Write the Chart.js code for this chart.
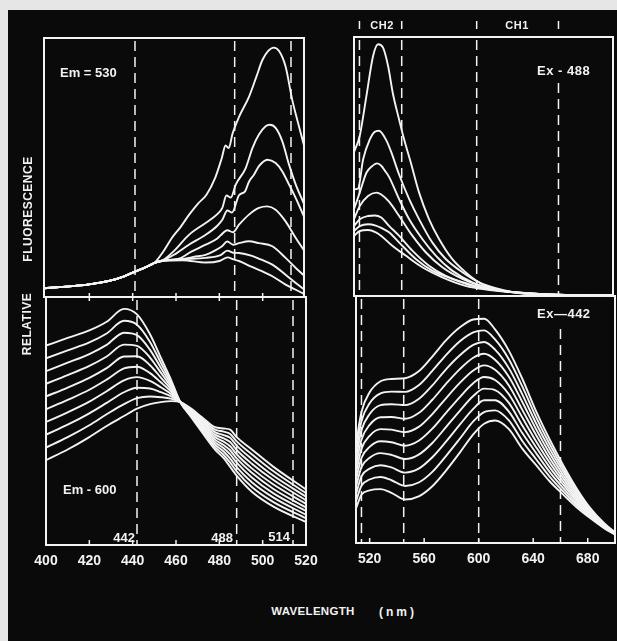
<!DOCTYPE html>
<html>
<head>
<meta charset="utf-8">
<script src="https://cdn.jsdelivr.net/npm/chart.js@4.4.1/dist/chart.umd.min.js"></script>
<style>
  html, body { margin:0; padding:0; width:617px; height:641px; overflow:hidden; background:#e6e6e6; }
  #bg { position:absolute; left:8px; top:10px; width:609px; height:631px; background:#0a0a0a; }
  canvas { position:absolute; }
  .lbl { position:absolute; color:#f2f2f2; font-family:"Liberation Sans", Arial, sans-serif; font-weight:bold; white-space:nowrap; line-height:1; }
</style>
</head>
<body>
<div id="bg"></div>
<canvas id="tl" width="300" height="299" style="left:24px;top:18px;width:300px;height:299px"></canvas>
<canvas id="tr" width="299" height="299" style="left:334px;top:17px;width:299px;height:299px"></canvas>
<canvas id="bl" width="300" height="310" style="left:26px;top:277px;width:300px;height:310px"></canvas>
<canvas id="br" width="299" height="310" style="left:336px;top:276px;width:299px;height:310px"></canvas>

<div class="lbl" style="left:60px;top:72px;font-size:13px;transform:translateY(-50%)">Em = 530</div>
<div class="lbl" style="left:537px;top:70px;font-size:13px;transform:translateY(-50%);letter-spacing:0.5px">Ex - 488</div>
<div class="lbl" style="left:537px;top:313px;font-size:13px;transform:translateY(-50%);letter-spacing:0.5px">Ex—442</div>
<div class="lbl" style="left:63px;top:489px;font-size:13px;transform:translateY(-50%)">Em - 600</div>
<div class="lbl" style="left:135px;top:537px;font-size:13px;transform:translate(-100%,-50%)">442</div>
<div class="lbl" style="left:233px;top:537px;font-size:13px;transform:translate(-100%,-50%)">488</div>
<div class="lbl" style="left:290px;top:536px;font-size:13px;transform:translate(-100%,-50%)">514</div>
<div class="lbl" style="left:382px;top:25px;font-size:11px;transform:translate(-50%,-50%);letter-spacing:0.5px">CH2</div>
<div class="lbl" style="left:517px;top:25px;font-size:11px;transform:translate(-50%,-50%);letter-spacing:0.5px">CH1</div>
<div class="lbl" style="left:28px;top:209px;font-size:12px;transform:translate(-50%,-50%) rotate(-90deg);letter-spacing:0.5px">FLUORESCENCE</div>
<div class="lbl" style="left:27px;top:324px;font-size:12px;transform:translate(-50%,-50%) rotate(-90deg);letter-spacing:0.5px">RELATIVE</div>
<div class="lbl" style="left:313px;top:612px;font-size:11.5px;transform:translate(-50%,-50%);letter-spacing:0.3px">WAVELENGTH</div>
<div class="lbl" style="left:398px;top:612px;font-size:12px;transform:translate(-50%,-50%);letter-spacing:3px">(nm)</div>

<script>
// ---------- tick labels / marker wavelengths ----------
const leftTicks  = [400, 420, 440, 460, 480, 500, 520];
const rightTicks = [520, 560, 600, 640, 680];
const leftMarks  = [442, 488, 514];
const rightMarks = [514, 545, 600, 660];
const channelBars = [514, 545, 600, 660];

// ---------- top-left: excitation, Em = 530 ([nm, value]) ----------
const tlBase = [[400,3.4],[410,4],[420,4.8],[430,6.2],[437,8],[442,9.8],[447,11.5],[451,13.2]];
const tl1 = [[455,17.5],[459,22.8],[463,27],[467,31.8],[471,36],[475,39.5],[479,46],[482,53.5],[483.8,58.5],[485.3,57.5],[487,63],[490,69.5],[494.6,77.3],[498,85],[500.8,91.5],[503.5,95],[506,96.3],[508.5,95],[511.5,89],[514.6,76],[517,68],[520,58.5]];
const tl2 = [[455,14.3],[460,17.8],[466.9,24],[474.6,28.6],[480,32],[482.3,34.4],[484.2,39.2],[486.2,38.4],[488.5,43.4],[493.1,49.8],[496.2,57.5],[499.2,62.7],[502.3,65.9],[504.2,66.5],[506.9,65.3],[510,60.1],[513.1,51.1],[516.2,43.4],[520,36]];
const tl3 = [[455,14.2],[460,16.3],[466.9,20.2],[474.6,24],[480,27.5],[482.3,29.8],[484.6,33.4],[486.8,32.6],[490,39.3],[492.8,40.8],[494.6,44.5],[496.9,47.2],[499.2,50.5],[503.1,53],[506.9,51.7],[510,48.5],[513.1,43.4],[516.2,38.2],[520,31]];
const tl4 = [[455,14.1],[462.3,14.8],[468,17.5],[474.6,20.2],[480,22.6],[481.5,23.8],[484.6,25.8],[487.2,25],[490,27.9],[494.6,31.8],[499.2,34.4],[503.1,35],[506.9,33.7],[511.5,29.2],[516.2,22.8],[520,18]];
const tl5 = [[455,14],[463.8,14.6],[469,15.5],[474.6,16.3],[479,18],[482,19.5],[484.6,21.4],[487.3,20.2],[490,20.8],[494.6,21.5],[499.2,20.8],[505.4,19.6],[511.5,15.1],[516.2,11.2],[520,8.3]];
const tl6 = [[455,14],[464,14.6],[474.6,15.1],[481.5,16.2],[484.6,17.9],[487.3,17.1],[490,17],[496,15.9],[500,14.5],[505.4,12.5],[511.5,8.6],[516.2,5.4],[520,3]];
const tl7 = [[455,14],[464,14.2],[474.6,13.3],[481,13.9],[484.8,15.3],[487.5,14.5],[490,13.9],[496,11.6],[500,10.2],[505.4,8],[511.5,4.8],[516.2,2.8],[520,1.2]];

// ---------- top-right: emission, Ex = 488 ([nm, value]) ----------
const tr1 = [[510,55.5],[514.2,61.8],[519.1,77.2],[524,92.7],[527.7,97.2],[531.3,95.9],[535,88.8],[538.6,78],[543,68.3],[546.7,60.6],[551.6,51.6],[557.7,40],[565,29.7],[572.4,22],[582,14.3],[591.8,9.2],[601.7,5.3],[614,2.7],[626,1.4],[640,0.7],[660,0.4],[700,0.3]];
const tr2 = [[510,41.2],[513,41.5],[516.7,52.8],[521.6,60.5],[525,63.3],[528.3,63.8],[533.8,60],[537,56],[543,47],[550.4,37.5],[557.7,29.7],[567.4,20.7],[577.3,14.3],[589.5,9.2],[601.7,5.3],[614,3],[626,1.6],[640,0.8],[660,0.4],[700,0.3]];
const tr3 = [[510,33.5],[514.2,39.9],[519.1,47.6],[523,50],[527,51.2],[530,50.3],[532.5,48.5],[535.7,46],[543,37.5],[550.4,29.7],[560.1,22],[570,15.6],[582,9.8],[596.8,5.3],[611.5,2.8],[626,1.5],[640,0.8],[660,0.4],[700,0.3]];
const tr4 = [[510,29.6],[514.2,34.7],[520.3,38.6],[526.4,39.9],[530,39.2],[535.7,36.4],[543,31],[552.8,23.3],[562.6,16.9],[574.8,11.1],[589.5,6.6],[606.6,3.4],[620,2],[640,1],[660,0.5],[700,0.3]];
const tr5 = [[510,27],[514.2,29.6],[520.3,30.9],[525.2,31.1],[530,30.3],[535.7,27.1],[543,23.3],[552.8,17.5],[565,11.7],[577.3,7.8],[594.4,4.6],[610,2.6],[625,1.6],[640,1],[660,0.5],[700,0.3]];
const tr6 = [[510,25.1],[514.2,27],[520.3,27.7],[526,27.2],[530,26.3],[535.7,24.6],[543,20.7],[555.3,14.3],[567.4,9.8],[582,6.6],[596.8,3.9],[612,2.4],[625,1.6],[640,1],[660,0.5],[700,0.3]];
const tr7 = [[510,23.2],[514.2,25.1],[520.3,25.5],[526,24.6],[530,23.2],[538.1,19.4],[547.9,15.6],[560.1,11.1],[574.8,7.2],[591.8,3.9],[608,2.4],[625,1.5],[640,1],[660,0.5],[700,0.3]];

// ---------- bottom-left: excitation, Em = 600 ----------
const blX  = [400,410,420,428,436,442,448,453,458,462,467,472,478,482,485,488,495,505,520];
const bl1  = [80.4,83.5,86.5,90,95.2,93,85,75.5,66,57.6,51.5,45.5,38.5,35,31.5,28,21.5,15.5,9.3];
const bl2  = [75.3,78.5,81.7,85.3,90.4,88.8,81.9,73.5,65.1,57.6,51.9,46.2,39.5,36.3,33.2,29.7,23.4,17.3,10.8];
const bl3  = [70.1,73.5,77,80.7,85.6,84.6,78.7,71.5,64.2,57.6,52.3,46.8,40.5,37.7,34.8,31.4,25.3,19.1,12.2];
const bl4  = [65,68.5,72.2,76,80.8,80.3,75.6,69.5,63.3,57.6,52.7,47.5,41.5,39,36.5,33.2,27.2,20.8,13.7];
const bl5  = [59.9,63.5,67.4,71.3,76,76.1,72.5,67.5,62.4,57.6,53.1,48.2,42.5,40.3,38.2,34.9,29.1,22.6,15.1];
const bl6  = [54.7,58.5,62.6,66.7,71.2,71.9,69.3,65.6,61.6,57.6,53.4,48.8,43.5,41.7,39.8,36.6,30.9,24.4,16.6];
const bl7  = [49.6,53.5,57.8,62,66.4,67.7,66.2,63.6,60.7,57.6,53.8,49.5,44.5,43,41.5,38.3,32.8,26.2,18];
const bl8  = [44.5,48.5,53.1,57.3,61.6,63.4,63.1,61.6,59.8,57.6,54.2,50.2,45.5,44.3,43.2,40.1,34.7,27.9,19.5];
const bl9  = [39.3,43.5,48.3,52.7,56.8,59.2,59.9,59.6,58.9,57.6,54.6,50.8,46.5,45.7,44.8,41.8,36.6,29.7,20.9];
const bl10 = [34.2,38.5,43.5,48,52,55,56.8,57.6,58,57.6,55,51.5,47.5,47,46.5,43.5,38.5,31.5,22.4];

// ---------- bottom-right: emission, Ex = 442 ----------
const brX  = [510,514,520,528,536,546,556,566,576,586,596,604,612,622,632,642,652,662,672,682,692,700];
const br1  = [40,53,61,65.5,66.4,66.7,69.5,75.5,82,87.2,90.5,90.8,86.5,78,66.5,53.5,42,31.5,22,14,8,4.3];
const br2  = [37.1,49.3,56.6,60.6,61.3,61.2,63.9,69.7,76.1,81.6,85.3,86.1,82.4,74.5,63.4,51.1,40.1,30.2,21.2,13.6,7.8,4.2];
const br3  = [34.2,45.6,52.2,55.8,56.2,55.8,58.3,63.8,70.3,75.9,80.2,81.4,78.3,70.9,60.2,48.6,38.2,28.9,20.3,13.1,7.6,4.1];
const br4  = [31.3,41.8,47.8,50.9,51,50.3,52.6,58,64.4,70.3,75,76.6,74.2,67.4,57.1,46.2,36.3,27.5,19.5,12.7,7.3,4];
const br5  = [28.4,38.1,43.4,46.1,45.9,44.9,47,52.2,58.6,64.7,69.8,71.9,70.1,63.9,53.9,43.8,34.4,26.2,18.6,12.2,7.1,3.9];
const br6  = [25.6,34.4,38.9,41.2,40.8,39.4,41.4,46.3,52.7,59,64.7,67.2,66,60.3,50.8,41.3,32.6,24.9,17.8,11.8,6.9,3.8];
const br7  = [22.7,30.7,34.5,36.4,35.7,34,35.8,40.5,46.9,53.4,59.5,62.5,61.9,56.8,47.6,38.9,30.7,23.6,17,11.3,6.7,3.7];
const br8  = [19.8,27,30.1,31.5,30.6,28.5,30.1,34.7,41,47.8,54.3,57.8,57.8,53.3,44.5,36.5,28.8,22.2,16.1,10.9,6.4,3.6];
const br9  = [16.9,23.2,25.7,26.7,25.4,23.1,24.5,28.8,35.2,42.1,49.2,53,53.7,49.7,41.3,34,26.9,20.9,15.3,10.4,6.2,3.5];
const br10 = [14,19.5,21.3,21.8,20.3,17.6,18.9,23,29.3,36.5,44,48.3,49.6,46.2,38.2,31.6,25,19.6,14.4,10,6,3.4];

// ---------- helpers ----------
const WHITE = '#f3f3f3';
const FONT = "'Liberation Sans', Arial, sans-serif";
const pts = pairs => pairs.map(p => ({x:p[0], y:p[1]}));
const zipXY = (xs, ys) => xs.map((x, i) => ({x:x, y:ys[i]}));

const framePlugin = {
  id: 'frame',
  beforeDatasetsDraw(chart, args, o) {
    const ctx = chart.ctx, a = chart.chartArea, x = chart.scales.x;
    const starts = o.markStart || {};
    ctx.save();
    ctx.strokeStyle = WHITE; ctx.lineWidth = 1.5; ctx.setLineDash([10, 6]);
    (o.marks || []).forEach(v => {
      const px = x.getPixelForValue(v);
      const y0 = a.top + (starts[v] !== undefined ? starts[v] : 3);
      ctx.beginPath(); ctx.moveTo(px, y0); ctx.lineTo(px, a.bottom); ctx.stroke();
    });
    ctx.restore();
  },
  afterDraw(chart, args, o) {
    const ctx = chart.ctx, a = chart.chartArea, x = chart.scales.x;
    ctx.save();
    ctx.strokeStyle = WHITE; ctx.lineWidth = 2; ctx.setLineDash([]);
    ctx.strokeRect(a.left, a.top, a.right - a.left, a.bottom - a.top);
    ctx.lineWidth = 1.5;
    (o.ticks || []).forEach(v => {
      if (v <= x.min || v >= x.max) return;
      const px = x.getPixelForValue(v);
      if (o.bottomTicks) { ctx.beginPath(); ctx.moveTo(px, a.bottom); ctx.lineTo(px, a.bottom - 5); ctx.stroke(); }
      if (o.topTicks) { ctx.beginPath(); ctx.moveTo(px, a.top - 4); ctx.lineTo(px, a.top + 4); ctx.stroke(); }
    });
    (o.bars || []).forEach(v => {
      const px = x.getPixelForValue(v);
      ctx.beginPath(); ctx.moveTo(px, a.top - 16); ctx.lineTo(px, a.top - 8); ctx.stroke();
    });
    ctx.restore();
  }
};

function makeChart(id, cfg) {
  return new Chart(document.getElementById(id), {
    type: 'line',
    data: {
      datasets: cfg.series.map(s => ({
        data: s, borderColor: WHITE, borderWidth: 1.9, pointRadius: 0, fill: false,
        cubicInterpolationMode: 'monotone'
      }))
    },
    options: {
      responsive: false, animation: false, devicePixelRatio: 1, events: [],
      layout: { padding: cfg.padding },
      plugins: { legend: { display: false }, tooltip: { enabled: false }, frame: cfg.frame },
      scales: {
        x: {
          type: 'linear', min: cfg.min, max: cfg.max, display: cfg.showTicks,
          grid: { display: false, drawTicks: false }, border: { display: false },
          ticks: { color: WHITE, padding: 8, autoSkip: false, maxRotation: 0,
                   font: { family: FONT, size: 14, weight: 'bold' } },
          afterBuildTicks: s => { s.ticks = cfg.ticks.map(v => ({ value: v })); }
        },
        y: { display: false, min: 0, max: 100 }
      }
    },
    plugins: [framePlugin]
  });
}

makeChart('tl', {
  series: [tl1, tl2, tl3, tl4, tl5, tl6, tl7].map(c => pts(tlBase.concat(c))),
  min: 400, max: 520, ticks: leftTicks, showTicks: false,
  padding: { left: 20, right: 20, top: 20, bottom: 20 },
  frame: { marks: leftMarks }
});
makeChart('tr', {
  series: [tr1, tr2, tr3, tr4, tr5, tr6, tr7].map(pts),
  min: 510, max: 700, ticks: rightTicks, showTicks: false,
  padding: { left: 20, right: 20, top: 20, bottom: 20 },
  frame: { marks: rightMarks, bars: channelBars, markStart: { 660: 46 } }
});
makeChart('bl', {
  series: [bl1, bl2, bl3, bl4, bl5, bl6, bl7, bl8, bl9, bl10].map(v => zipXY(blX, v)),
  min: 400, max: 520, ticks: leftTicks, showTicks: true,
  padding: { left: 20, right: 20, top: 20, bottom: 9.2 },
  frame: { marks: leftMarks, ticks: leftTicks, bottomTicks: true, topTicks: true }
});
makeChart('br', {
  series: [br1, br2, br3, br4, br5, br6, br7, br8, br9, br10].map(v => zipXY(brX, v)),
  min: 510, max: 700, ticks: rightTicks, showTicks: true,
  padding: { left: 20, right: 20, top: 20, bottom: 10.2 },
  frame: { marks: rightMarks, ticks: rightTicks, bottomTicks: true, markStart: { 660: 33 } }
});
</script>
</body>
</html>
